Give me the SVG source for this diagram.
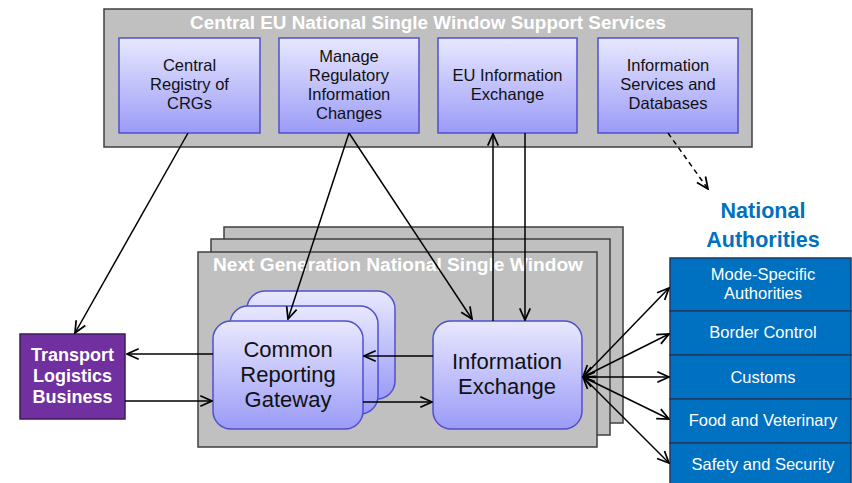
<svg xmlns="http://www.w3.org/2000/svg" width="852" height="483" viewBox="0 0 852 483">
<style>
.frame{fill:#c0c0c0;stroke:#3f3f3f;stroke-width:1.5}
.svc{fill:url(#g);stroke:#4f4fcf;stroke-width:1.5}
.t{font-family:"Liberation Sans",Arial,sans-serif;text-anchor:middle;fill:#111}
.s{font-size:16.5px}
.big{font-size:22px}
.hw{font-weight:bold;fill:#fff;font-size:18px}
.auth{fill:#0070c0;stroke:#1f3864;stroke-width:1.5}
.at{font-size:16.5px;fill:#fff}
.c{stroke:#000;stroke-width:1.5;fill:none}
</style>
<defs>
<linearGradient id="g" x1="0" y1="0" x2="0" y2="1">
<stop offset="0" stop-color="#e8e8ff"/>
<stop offset="1" stop-color="#9b9bf7"/>
</linearGradient>
<marker id="a" markerUnits="userSpaceOnUse" markerWidth="14" markerHeight="14" viewBox="0 0 12 12" refX="11" refY="6" orient="auto-start-reverse">
<path d="M1,1.5 L11,6 L1,10.5" fill="none" stroke="#000" stroke-width="1.5"/>
</marker>
</defs>
<rect width="852" height="483" fill="#fff"/>

<g id="central-eu">
<rect class="frame" x="104" y="9" width="648" height="138"/>
<text class="t hw" x="428" y="29" textLength="476" lengthAdjust="spacingAndGlyphs">Central EU National Single Window Support Services</text>
</g>
<g id="central-registry">
<rect class="svc" x="119" y="38" width="141" height="95"/>
<text class="t s" x="189.5" y="71">Central</text>
<text class="t s" x="189.5" y="90">Registry of</text>
<text class="t s" x="189.5" y="109">CRGs</text>
</g>
<g id="manage-regulatory">
<rect class="svc" x="279" y="38" width="140" height="95"/>
<text class="t s" x="349" y="62">Manage</text>
<text class="t s" x="349" y="81">Regulatory</text>
<text class="t s" x="349" y="100">Information</text>
<text class="t s" x="349" y="119">Changes</text>
</g>
<g id="eu-info-exchange">
<rect class="svc" x="438" y="38" width="139" height="95"/>
<text class="t s" x="507.5" y="81">EU Information</text>
<text class="t s" x="507.5" y="100">Exchange</text>
</g>
<g id="info-services">
<rect class="svc" x="598" y="38" width="140" height="95"/>
<text class="t s" x="668" y="71">Information</text>
<text class="t s" x="668" y="90">Services and</text>
<text class="t s" x="668" y="109">Databases</text>
</g>

<g id="next-gen">
<rect class="frame" x="224" y="227" width="399" height="196"/>
<rect class="frame" x="211" y="239" width="399" height="196"/>
<rect class="frame" x="198" y="252" width="399" height="195"/>
<text class="t hw" x="398" y="271" textLength="370" lengthAdjust="spacingAndGlyphs">Next Generation National Single Window</text>
</g>
<g id="crg">
<rect class="svc" x="247" y="291" width="148" height="108" rx="18"/>
<rect class="svc" x="230" y="306" width="148" height="108" rx="18"/>
<rect class="svc" x="213" y="321" width="150" height="108" rx="18"/>
<text class="t big" x="288" y="357">Common</text>
<text class="t big" x="288" y="382">Reporting</text>
<text class="t big" x="288" y="407">Gateway</text>
</g>
<g id="info-exchange">
<rect class="svc" x="433" y="321" width="149" height="108" rx="18"/>
<text class="t big" x="507" y="369">Information</text>
<text class="t big" x="507" y="394">Exchange</text>
</g>
<g id="transport-logistics">
<rect x="20" y="334" width="105" height="85" fill="#7030a0" stroke="#3f1a5c" stroke-width="1.5"/>
<text class="t" x="72.5" y="361" style="font-weight:bold;fill:#fff;font-size:18px">Transport</text>
<text class="t" x="72.5" y="382" style="font-weight:bold;fill:#fff;font-size:18px">Logistics</text>
<text class="t" x="72.5" y="403" style="font-weight:bold;fill:#fff;font-size:18px">Business</text>
</g>
<g id="national-authorities">
<text class="t" x="763" y="218" style="font-weight:bold;fill:#0070c0;font-size:21.5px">National</text>
<text class="t" x="763" y="247" style="font-weight:bold;fill:#0070c0;font-size:21.5px">Authorities</text>
</g>
<g id="mode-specific">
<rect class="auth" x="670" y="258" width="181" height="53"/>
<text class="t at" x="763" y="280">Mode-Specific</text>
<text class="t at" x="763" y="299">Authorities</text>
</g>
<g id="border-control">
<rect class="auth" x="670" y="311" width="181" height="44"/>
<text class="t at" x="763" y="338">Border Control</text>
</g>
<g id="customs">
<rect class="auth" x="670" y="355" width="181" height="44"/>
<text class="t at" x="763" y="383">Customs</text>
</g>
<g id="food-veterinary">
<rect class="auth" x="670" y="399" width="181" height="44"/>
<text class="t at" x="763" y="426">Food and Veterinary</text>
</g>
<g id="safety-security">
<rect class="auth" x="670" y="443" width="181" height="44"/>
<text class="t at" x="763" y="470">Safety and Security</text>
</g>

<g id="connectors">
<line class="c" x1="188" y1="133" x2="75" y2="333" marker-end="url(#a)"/>
<line class="c" x1="349" y1="133" x2="288" y2="319" marker-end="url(#a)"/>
<line class="c" x1="349" y1="133" x2="472" y2="319" marker-end="url(#a)"/>
<line class="c" x1="493" y1="321" x2="493" y2="134" marker-end="url(#a)"/>
<line class="c" x1="525" y1="133" x2="525" y2="320" marker-end="url(#a)"/>
<line class="c" x1="668" y1="133" x2="708" y2="189" stroke-dasharray="5,4" marker-end="url(#a)"/>
<line class="c" x1="433" y1="356" x2="364" y2="356" marker-end="url(#a)"/>
<line class="c" x1="363" y1="402" x2="432" y2="402" marker-end="url(#a)"/>
<line class="c" x1="213" y1="354" x2="127" y2="354" marker-end="url(#a)"/>
<line class="c" x1="125" y1="401" x2="212" y2="401" marker-end="url(#a)"/>
<line class="c" x1="583" y1="377" x2="669" y2="288" marker-start="url(#a)" marker-end="url(#a)"/>
<line class="c" x1="583" y1="377" x2="669" y2="334" marker-start="url(#a)" marker-end="url(#a)"/>
<line class="c" x1="583" y1="377" x2="669" y2="377" marker-start="url(#a)" marker-end="url(#a)"/>
<line class="c" x1="583" y1="377" x2="669" y2="419" marker-start="url(#a)" marker-end="url(#a)"/>
<line class="c" x1="583" y1="377" x2="669" y2="463" marker-start="url(#a)" marker-end="url(#a)"/>
</g>
</svg>
